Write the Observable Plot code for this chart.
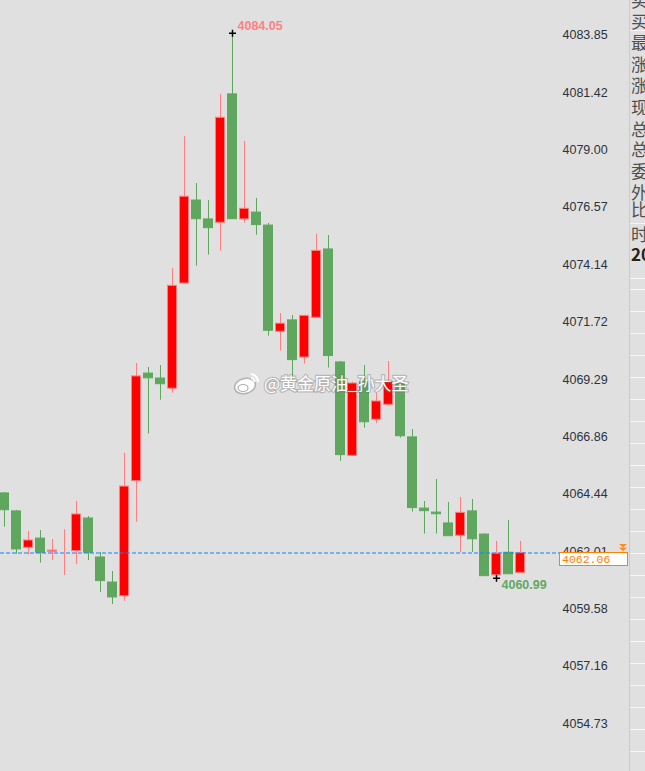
<!DOCTYPE html>
<html><head><meta charset="utf-8">
<script src="https://cdn.jsdelivr.net/npm/d3@7"></script>
<script src="https://cdn.jsdelivr.net/npm/@observablehq/plot@0.6"></script>
<style>
html,body{margin:0;padding:0;background:#e0e0e0;overflow:hidden;}
#chart{position:relative;width:645px;height:771px;}
#chart svg{display:block;}
</style></head><body><div id="chart"></div>
<script>
// ---- data ----
const opens  = [4064.58,4063.82,4062.28,4062.67,4062.11,4062.20,4062.14,4063.52,4061.87,4060.81,4060.23,4065.10,4069.65,4069.44,4069.01,4073.46,4076.97,4076.17,4076.03,4081.46,4076.17,4076.46,4075.91,4071.42,4071.90,4070.33,4072.01,4074.90,4070.12,4066.17,4069.29,4067.70,4068.33,4069.27,4066.95,4063.94,4063.77,4063.31,4062.79,4063.82,4062.84,4061.12,4062.07,4061.22];
const highs  = [4064.62,4063.86,4062.97,4063.01,4062.63,4063.05,4064.24,4063.60,4062.08,4061.28,4066.28,4070.08,4069.91,4069.99,4074.10,4079.68,4077.69,4076.97,4081.46,4084.05,4079.47,4077.06,4076.00,4072.19,4072.11,4072.12,4075.55,4075.49,4070.16,4069.29,4069.99,4068.81,4070.16,4069.33,4067.28,4064.24,4065.17,4064.20,4064.41,4064.32,4062.87,4062.55,4063.43,4062.55];
const lows   = [4063.15,4062.00,4061.97,4061.63,4061.74,4061.11,4061.57,4061.74,4060.39,4059.88,4060.02,4063.36,4067.09,4068.52,4068.82,4073.46,4074.19,4074.66,4074.83,4076.18,4076.01,4075.50,4071.23,4070.60,4069.36,4070.05,4072.01,4069.88,4065.94,4066.17,4067.34,4067.53,4068.27,4066.92,4063.79,4062.86,4062.86,4062.77,4062.07,4062.08,4061.08,4060.99,4061.16,4061.22];
const closes = [4063.87,4062.21,4062.59,4062.07,4062.16,4062.20,4063.69,4062.07,4060.87,4060.18,4064.87,4069.53,4069.45,4069.20,4073.36,4077.13,4076.18,4075.80,4080.47,4076.18,4076.62,4075.93,4071.46,4071.76,4070.22,4072.09,4074.84,4070.39,4066.20,4069.23,4067.59,4068.47,4069.29,4067.00,4063.96,4063.83,4063.70,4062.77,4063.76,4062.64,4061.08,4062.03,4061.16,4062.06];
const yTicks = [4083.85,4081.42,4079.00,4076.57,4074.14,4071.72,4069.29,4066.86,4064.44,4062.01,4059.58,4057.16,4054.73];
const lastPrice = 4062.06;
const panelLabels = ["买","买","最","涨","涨","现","总","总","委","外","比","时","20"];
const watermarkText = "@黄金原油_孙大圣";

// ---- styles ----
const RED = "#ff0000", RED_LINE = "#ff8080", GREEN = "#5fa75f";
const candles = opens.map((o, i) => ({i, open: o, high: highs[i], low: lows[i], close: closes[i], up: closes[i] >= o}));
const hiIdx = d3.maxIndex(highs);
const hi = candles[hiIdx];
// lowest low after the peak
const after = candles.slice(hiIdx);
const lo = after[d3.minIndex(after, d => d.low)];

const chart = Plot.plot({
  width: 645, height: 771,
  marginLeft: 0, marginRight: 85, marginTop: 0, marginBottom: 0,
  style: {background: "#e0e0e0", fontFamily: "'Liberation Sans', Arial, sans-serif", fontSize: "12.5px", overflow: "visible"},
  x: {type: "linear", domain: [-1/3, 139/3], axis: null},
  y: {domain: [4052.817, 4085.431], axis: null, label: null},
  color: {type: "identity"},
  marks: [
    Plot.axisY(yTicks, {anchor: "right", tickSize: 0, tickPadding: 2, label: null,
      tickFormat: d => d.toFixed(2), fill: "#2b3340", fontSize: 12.5, dy: -2.5}),
    Plot.ruleX(candles, {x: "i", y1: "low", y2: "high", stroke: d => d.up ? RED_LINE : GREEN}),
    Plot.rect(candles, {x1: d => d.i - 0.375, x2: d => d.i + 0.375, y1: "open", y2: "close",
      fill: d => d.up ? RED : GREEN, stroke: d => d.up ? RED_LINE : GREEN}),
    Plot.ruleY([lastPrice], {stroke: "#0a84ff", strokeWidth: 1.2, strokeDasharray: "4,2"}),
    Plot.dot([hi, lo], {x: "i", y: d => d === hi ? d.high : d.low, symbol: "plus", r: 2.4, stroke: "#000"}),
    Plot.text([hi], {x: "i", y: "high", text: d => d.high.toFixed(2), textAnchor: "start", dx: 5, dy: -7.5, fill: "#ff8080", fontSize: 12.5, fontWeight: "bold"}),
    Plot.text([lo], {x: "i", y: "low", text: d => d.low.toFixed(2), textAnchor: "start", dx: 5, dy: 7, fill: "#62a862", fontSize: 12.5, fontWeight: "bold"})
  ]
});
document.getElementById("chart").appendChild(chart);

// ---- chrome: current price box, right panel, watermark ----
const svg = d3.select(chart);
const yS = chart.scale("y");
const yLast = yS.apply(lastPrice);

// orange marker
const tri = svg.append("g").attr("fill", "#ff8c1a");
tri.append("path").attr("d", `M619,${yLast-8.5}L627,${yLast-8.5}L623,${yLast-5}Z`);
tri.append("path").attr("d", `M619,${yLast-5}L627,${yLast-5}L623,${yLast-1.2}Z`);
svg.append("rect").attr("x", 559.5).attr("y", yLast).attr("width", 68).attr("height", 13)
  .attr("fill", "#fff").attr("stroke", "#ff8000");
svg.append("text").attr("x", 562).attr("y", yLast + 10.5).attr("fill", "#ff8000")
  .attr("text-anchor", "start")
  .attr("font-family", "'Liberation Mono', 'DejaVu Sans Mono', monospace").attr("font-size", 11.5)
  .text(lastPrice.toFixed(2));

// right info panel
const panel = svg.append("g");
panel.append("line").attr("x1", 629.5).attr("x2", 629.5).attr("y1", 0).attr("y2", 771).attr("stroke", "#c5ccd6");
const hLines = [30.5, 223.5, 278.5];
for (let y = 289.5; y < 771; y += 22) hLines.push(y);
panel.selectAll("line.h").data(hLines).join("line").attr("class", "h")
  .attr("x1", 630).attr("x2", 645).attr("y1", d => d).attr("y2", d => d).attr("stroke", "#f6f6f6");
const baselines = [7, 28, 49, 71, 92, 114, 136, 156, 178, 199, 216, 241, 261];
panel.selectAll("text").data(panelLabels).join("text")
  .attr("x", 631).attr("y", (d, i) => baselines[i]).attr("text-anchor", "start")
  .attr("font-family", "'Noto Sans CJK SC', sans-serif").attr("font-size", 17)
  .attr("font-weight", d => d === "20" ? "bold" : "normal")
  .attr("fill", d => d === "20" ? "#222" : "#505050")
  .text(d => d);

// watermark
const wm = svg.append("g");
wm.append("ellipse").attr("cx", 245).attr("cy", 386).attr("rx", 10.5).attr("ry", 7.5)
  .attr("transform", "rotate(-15 245 386)").attr("fill", "#fff").attr("stroke", "rgba(120,120,120,0.5)").attr("stroke-width", 1.5);
wm.append("ellipse").attr("cx", 243).attr("cy", 388).attr("rx", 5).attr("ry", 3.5)
  .attr("fill", "none").attr("stroke", "rgba(120,120,120,0.6)").attr("stroke-width", 1.2);
wm.append("path").attr("d", "M251,374 A8,8 0 0 1 258,382").attr("fill", "none").attr("stroke", "#fff").attr("stroke-width", 2.2);
wm.append("path").attr("d", "M251,378 A4,4 0 0 1 254.5,382").attr("fill", "none").attr("stroke", "#fff").attr("stroke-width", 1.8);
wm.append("text").attr("x", 264).attr("y", 389.5).attr("text-anchor", "start")
  .attr("font-family", "'Noto Sans CJK SC', sans-serif").attr("font-size", 17)
  .attr("fill", "#fff").attr("stroke", "rgba(110,110,110,0.35)").attr("stroke-width", 2.5)
  .attr("paint-order", "stroke").text(watermarkText);
</script></body></html>
